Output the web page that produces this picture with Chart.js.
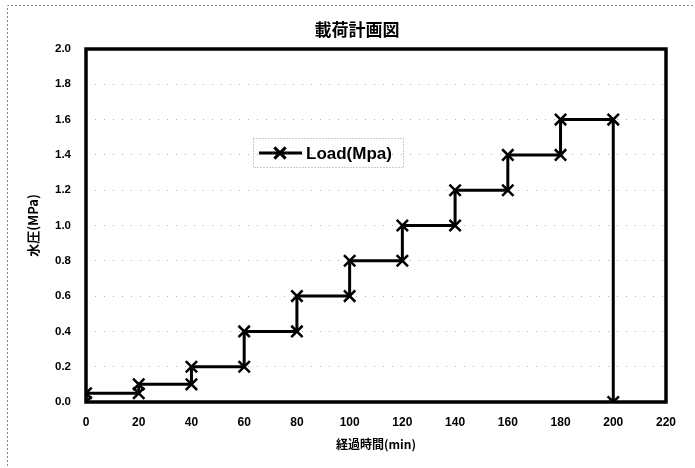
<!DOCTYPE html>
<html>
<head>
<meta charset="utf-8">
<script src="https://cdn.jsdelivr.net/npm/chart.js@4/dist/chart.umd.min.js"></script>
<style>
  html, body { margin: 0; padding: 0; background: #fff; }
  #wrap { width: 695px; height: 468px; }
</style>
</head>
<body>
<div id="wrap"><canvas id="loadChart" width="695" height="468"></canvas></div>
<script>
// 載荷計画 (step loading schedule)
const chartTitle = '載荷計画図';
const seriesLabel = 'Load(Mpa)';
const timeMin = [0, 0, 20, 20, 40, 40, 60, 60, 80, 80, 100, 100, 120, 120, 140, 140, 160, 160, 180, 180, 200, 200];
const loadMpa = [0, 0.05, 0.05, 0.1, 0.1, 0.2, 0.2, 0.4, 0.4, 0.6, 0.6, 0.8, 0.8, 1.0, 1.0, 1.2, 1.2, 1.4, 1.4, 1.6, 1.6, 0];

const points = timeMin.map((t, i) => ({ x: t, y: loadMpa[i] }));

const jpFont = '"Noto Sans CJK JP", "Liberation Sans", Arial, sans-serif';
const numFont = '"Liberation Sans", Arial, sans-serif';

// title, plot frame, outer frame and the floating legend box
const decorations = {
  id: 'decorations',
  beforeDraw(chart) {
    const ctx = chart.ctx;
    ctx.save();
    ctx.strokeStyle = '#888';
    ctx.lineWidth = 1;
    ctx.setLineDash([2, 2]);
    ctx.beginPath();
    ctx.moveTo(7.5, 470);
    ctx.lineTo(7.5, 5.5);
    ctx.lineTo(700, 5.5);
    ctx.stroke();
    ctx.restore();
  },
  afterDatasetsDraw(chart) {
    const ctx = chart.ctx;
    const a = chart.chartArea;
    ctx.save();
    ctx.strokeStyle = '#000';
    ctx.lineWidth = 3.5;
    ctx.strokeRect(a.left, a.top, a.right - a.left, a.bottom - a.top);

    ctx.fillStyle = '#000';
    ctx.font = 'bold 17px ' + jpFont;
    ctx.textAlign = 'center';
    ctx.textBaseline = 'middle';
    ctx.fillText(chartTitle, 357, 30);

    // legend box
    const ds = chart.data.datasets[0];
    ctx.lineWidth = 1;
    ctx.strokeStyle = '#999';
    ctx.setLineDash([1, 2]);
    ctx.strokeRect(253.5, 138.5, 150, 29);
    ctx.setLineDash([]);
    ctx.strokeStyle = ds.borderColor;
    ctx.lineWidth = ds.borderWidth;
    ctx.beginPath();
    ctx.moveTo(259, 153);
    ctx.lineTo(302, 153);
    ctx.stroke();
    Chart.helpers.drawPoint(ctx, {
      pointStyle: ds.pointStyle,
      radius: ds.pointRadius,
      borderWidth: ds.pointBorderWidth
    }, 280, 153);
    ctx.font = 'bold 17px ' + numFont;
    ctx.textAlign = 'left';
    ctx.fillStyle = '#000';
    ctx.fillText(ds.label, 306, 154);
    ctx.restore();
  }
};

new Chart(document.getElementById('loadChart'), {
  type: 'scatter',
  data: {
    datasets: [{
      label: seriesLabel,
      data: points,
      showLine: true,
      borderColor: '#000',
      backgroundColor: '#000',
      borderWidth: 3,
      pointStyle: 'crossRot',
      pointRadius: 8,
      pointBorderWidth: 2.5,
      pointBorderColor: '#000',
      tension: 0
    }]
  },
  options: {
    responsive: false,
    animation: false,
    layout: { padding: { top: 49, right: 29, left: 0, bottom: 0 } },
    plugins: {
      legend: { display: false },
      title: { display: false },
      tooltip: { enabled: false }
    },
    scales: {
      x: {
        type: 'linear',
        min: 0,
        max: 220,
        afterFit(scale) { scale.height = 66; },
        ticks: {
          stepSize: 20,
          color: '#000',
          padding: 13,
          font: { family: numFont, size: 12, weight: 'bold' }
        },
        grid: { display: false, drawTicks: false },
        border: { display: false },
        title: {
          display: true,
          text: '経過時間(min)',
          color: '#000',
          font: { family: jpFont, size: 12, weight: 'bold' },
          padding: { top: 0, bottom: 16 }
        }
      },
      y: {
        min: 0,
        max: 2,
        afterFit(scale) { scale.width = 86; },
        ticks: {
          stepSize: 0.2,
          color: '#000',
          padding: 15,
          font: { family: numFont, size: 11.5, weight: 'bold' },
          callback: v => Number(v).toFixed(1)
        },
        grid: {
          drawTicks: false,
          color: '#b0b0b0',
          lineWidth: 1
        },
        border: { display: false, dash: [1, 8] },
        title: {
          display: true,
          text: '水圧(MPa)',
          color: '#000',
          font: { family: jpFont, size: 13, weight: 'bold' },
          padding: { top: 25, bottom: 0 }
        }
      }
    }
  },
  plugins: [decorations]
});
</script>
</body>
</html>
